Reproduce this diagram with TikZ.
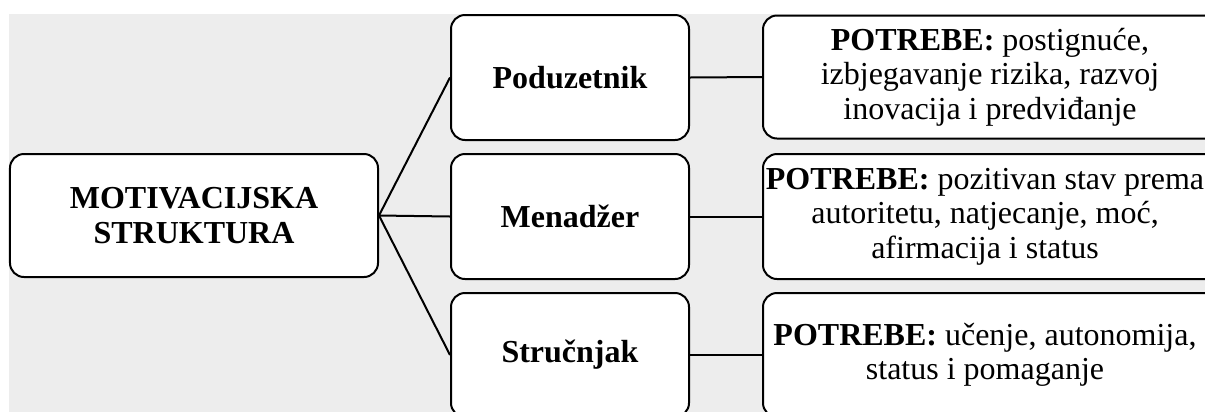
\documentclass[tikz,border=0pt]{standalone}
\usepackage{fontspec}
\setmainfont{Liberation Serif}
\definecolor{bggray}{HTML}{EDEDED}
\tikzset{
  box/.style={draw=black, fill=white, line width=2bp, rounded corners=14bp,
    align=center, inner sep=2bp, font=\fontsize{32bp}{34.5bp}\selectfont},
  txt/.style={align=center, inner sep=0pt, font=\fontsize{32bp}{34.5bp}\selectfont},
  link/.style={draw=black, line width=2bp},
}
\begin{document}
\begin{tikzpicture}[x=1bp, y=-1bp]
\useasboundingbox (0,0) rectangle (1205,411);
\fill[bggray] (9,14) rectangle (1206,412);
\begin{scope}
\clip (0,0) rectangle (1205,411);

\node[box, minimum width=368bp, minimum height=123bp] (ms) at (194,215.5)
  {\textbf{MOTIVACIJSKA}\\\textbf{STRUKTURA}};

\node[box, minimum width=238bp, minimum height=125bp] (pod) at (570,77.5) {\textbf{Poduzetnik}};
\node[box, minimum width=238bp, minimum height=125bp] (men) at (570,216.5) {\textbf{Menadžer}};
\node[box, minimum width=238bp, minimum height=124bp] (str) at (570,355) {\textbf{Stručnjak}};

\node[box, minimum width=540bp, minimum height=123bp] (p1) at (1033,77) {};
\node[box, minimum width=540bp, minimum height=125bp] (p2) at (1033,216.5) {};
\node[box, minimum width=540bp, minimum height=124bp] (p3) at (1033,355) {};

\node[txt] (t1) at (990,77)
  {\textbf{POTREBE:} postignuće,\\izbjegavanje rizika, razvoj\\inovacija i predviđanje};
\node[txt] (t2) at (985,216.5)
  {\textbf{POTREBE:} pozitivan stav prema\\autoritetu, natjecanje, moć,\\afirmacija i status};
\node[txt] (t3) at (985,355)
  {\textbf{POTREBE:} učenje, autonomija,\\status i pomaganje};

\draw[link] (ms.east) -- (pod.west);
\draw[link] (ms.east) -- (men.west);
\draw[link] (ms.east) -- (str.west);
\draw[link] (pod.east) -- (p1.west);
\draw[link] (men.east) -- (p2.west);
\draw[link] (str.east) -- (p3.west);
\end{scope}
\end{tikzpicture}
\end{document}
